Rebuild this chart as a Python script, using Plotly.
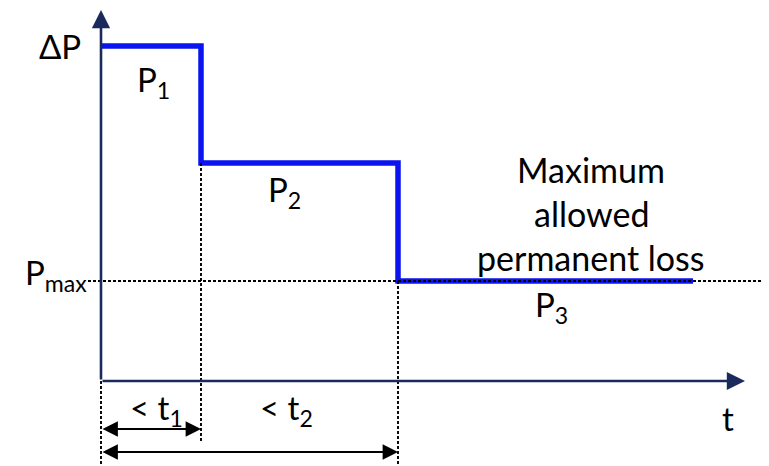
import plotly.graph_objects as go

# Data (diagram units)
t_steps = [0, 1.0, 2.97, 5.92]       # 0, t1, t2, end of plot
p_levels = [3.35, 2.18, 1.0]         # P1, P2, P3
p_max = 1.0
axis_x_end = 6.44
axis_y_end = 3.71

FONT = "Lato"
FS = 33
NAVY = "#1b2a5c"
BLUE = "#0a14f0"

fig = go.Figure()

# step line
xs, ys = [], []
for i, p in enumerate(p_levels):
    xs += [t_steps[i], t_steps[i + 1]]
    ys += [p, p]
fig.add_trace(go.Scatter(x=xs, y=ys, mode="lines",
                         line=dict(color=BLUE, width=5.5, shape="linear"),
                         hoverinfo="skip", showlegend=False))

# dotted guide lines
dot = dict(color="black", width=1.9, dash="3px,2px")
def vline(x0, y0, y1):
    fig.add_trace(go.Scatter(x=[x0, x0], y=[y0, y1], mode="lines", line=dot,
                             showlegend=False, hoverinfo="skip"))
fig.add_trace(go.Scatter(x=[-0.13, 6.75], y=[p_max, p_max], mode="lines", line=dot,
                         showlegend=False, hoverinfo="skip"))
vline(t_steps[0], 0, -0.9)
vline(t_steps[1], p_levels[1], -0.6)
vline(t_steps[2], p_levels[2], -0.9)

anns = []
# axes with arrows
anns.append(dict(x=0, y=axis_y_end, ax=0, ay=0, xref="x", yref="y", axref="x", ayref="y",
                 text="", showarrow=True, arrowhead=2, arrowsize=1.4, arrowwidth=2.6, arrowcolor=NAVY))
anns.append(dict(x=axis_x_end, y=0, ax=0, ay=0, xref="x", yref="y", axref="x", ayref="y",
                 text="", showarrow=True, arrowhead=2, arrowsize=1.4, arrowwidth=2.6, arrowcolor=NAVY))
# double headed arrows
anns.append(dict(x=t_steps[1], y=-0.48, ax=t_steps[0], ay=-0.48, xref="x", yref="y", axref="x", ayref="y",
                 text="", showarrow=True, arrowhead=2, arrowside="end+start", arrowsize=1.4, arrowwidth=2.2, arrowcolor="black"))
anns.append(dict(x=t_steps[2], y=-0.71, ax=t_steps[0], ay=-0.71, xref="x", yref="y", axref="x", ayref="y",
                 text="", showarrow=True, arrowhead=2, arrowside="end+start", arrowsize=1.4, arrowwidth=2.2, arrowcolor="black"))

def txt(x, y, s, xanchor="center", size=FS):
    anns.append(dict(x=x, y=y, xref="x", yref="y", text=s, showarrow=False,
                     xanchor=xanchor, yanchor="middle",
                     font=dict(family=FONT, size=size, color="black")))

txt(-0.41, 3.35, "ΔP")
txt(0.52, 3.0, "P<sub>1</sub>")
txt(1.83, 1.9, "P<sub>2</sub>")
txt(-0.12, 1.07, "P<sub>max</sub>", xanchor="right")
txt(4.5, 0.75, "P<sub>3</sub>")
txt(4.9, 2.12, "Maximum", size=34)
txt(4.9, 1.68, "allowed", size=34)
txt(4.9, 1.24, "permanent loss", size=34)
txt(0.55, -0.28, "&lt; t<sub>1</sub>")
txt(1.85, -0.28, "&lt; t<sub>2</sub>")
txt(6.27, -0.37, "t")

# page body has an 8px margin: figure is 761x458 drawn at (8, 8)
fig.update_layout(
    width=761, height=458,
    margin=dict(l=0, r=0, t=0, b=0),
    paper_bgcolor="white", plot_bgcolor="white",
    xaxis=dict(range=[-0.93, 6.68], visible=False, fixedrange=True),
    yaxis=dict(range=[-0.85, 3.73], visible=False, fixedrange=True),
    annotations=anns,
    showlegend=False,
)

fig.write_html("out.html", config={"displayModeBar": False})
